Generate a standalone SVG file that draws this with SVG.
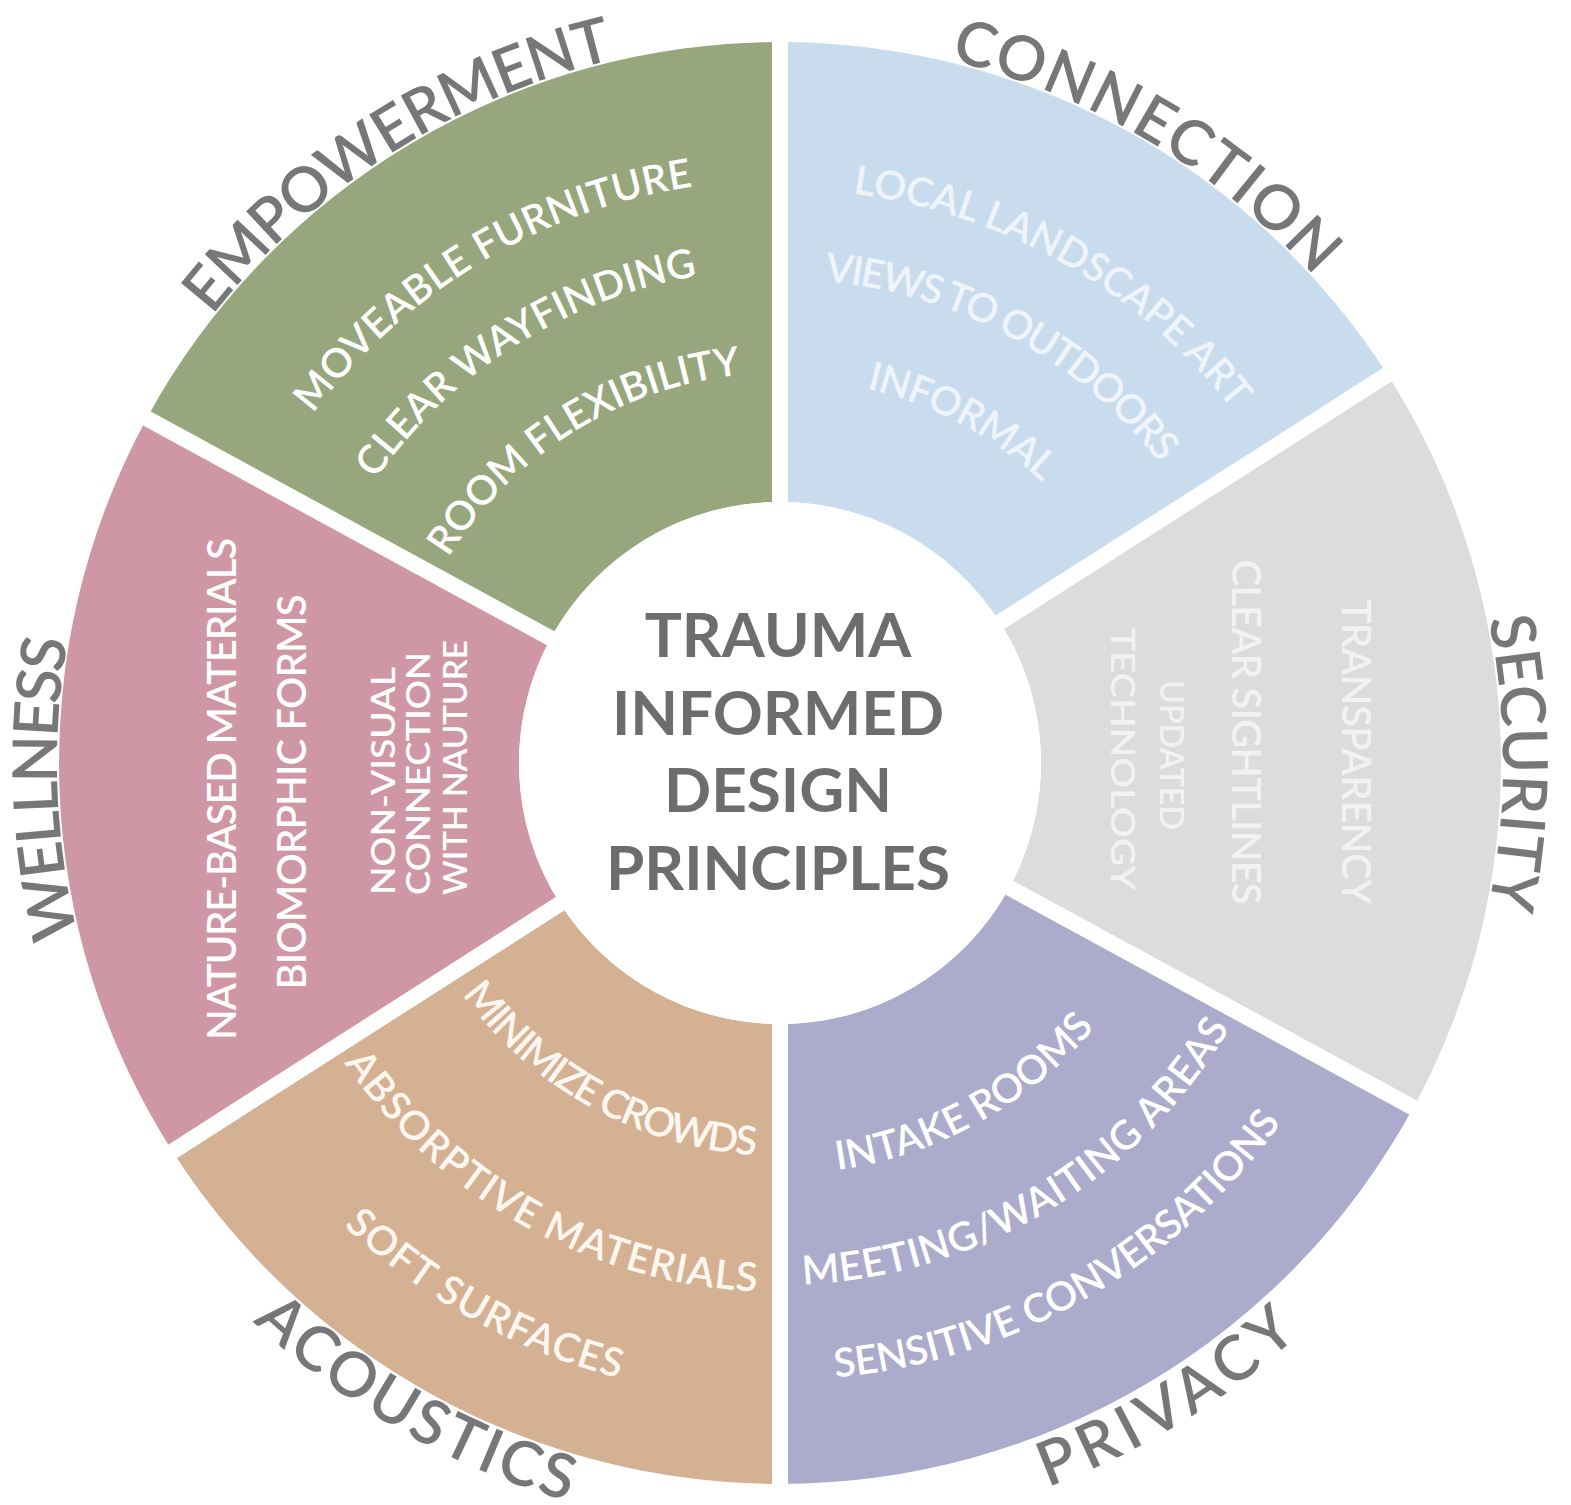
<svg xmlns="http://www.w3.org/2000/svg" xmlns:xlink="http://www.w3.org/1999/xlink" width="1571" height="1505" viewBox="0 0 1571 1505">
<style>
.lbl{font-family:Lato,"Open Sans","Liberation Sans",sans-serif;font-weight:600;font-size:62px;fill:#777679}
.it{font-family:Lato,"Open Sans","Liberation Sans",sans-serif;font-weight:600;font-size:40px;fill:#ffffff}
.nar{font-family:Lato,"Open Sans","Liberation Sans",sans-serif;font-weight:600;font-size:32px;fill:#ffffff}
.ctr{font-family:Lato,"Open Sans","Liberation Sans",sans-serif;font-weight:700;font-size:62px;fill:#6d6d6f}
</style>
<defs>
<path id="pEmp" d="M138.7,429.2 A723,723 0 0 1 748.5,40.7"/>
<path id="pCon" d="M788.2,40 A723,723 0 0 1 1410.2,408.6"/>
<path id="pSec" d="M1406.1,401.5 A723,723 0 0 1 1406.1,1124.5"/>
<path id="pWel" d="M166.9,1146.1 A723,723 0 0 1 141.6,423.6"/>
<path id="pPri" d="M796.8,1534.8 A772,772 0 0 0 1456.9,1134.3"/>
<path id="pAco" d="M116.9,1150.5 A768,768 0 0 0 784,1531"/>
<path id="pE1" d="M270.6,479.5 A583,583 0 0 1 770.8,180.1"/>
<path id="pE2" d="M342.6,533.4 A494,494 0 0 1 760.2,269.4"/>
<path id="pE3" d="M435.6,579.9 A390,390 0 0 1 766.4,373.2"/>
<path id="pC1" d="M776.5,189 A574,574 0 0 1 1275.3,473"/>
<path id="pC2" d="M767.3,279.2 A484,484 0 0 1 1192.7,510.1"/>
<path id="pC3" d="M766.6,379.2 A384,384 0 0 1 1105.7,559.5"/>
<path id="pP1" d="M772.8,1173.9 A411,411 0 0 0 1132.3,974.7"/>
<path id="pP2" d="M789.1,1284.9 A522,522 0 0 0 1236.6,1016.1"/>
<path id="pP3" d="M777.3,1380 A617,617 0 0 0 1313,1073.8"/>
<path id="pA1" d="M444,966.9 A393,393 0 0 0 788.6,1155.9"/>
<path id="pA2" d="M326.6,1035.5 A529,529 0 0 0 789.2,1291.9"/>
<path id="pA3" d="M234.8,1090.6 A636,636 0 0 0 791.1,1398.9"/>
</defs>
<rect width="1571" height="1505" fill="#ffffff"/>

<g id="empowerment">
<path d="M146.7,418.4 A721,721 0 0 1 780,42 L780,502 A261,261 0 0 0 550.7,638.3 Z" fill="#97a67c"/>
<text class="lbl"><textPath xlink:href="#pEmp" href="#pEmp" startOffset="50%" text-anchor="middle" textLength="486" lengthAdjust="spacing">EMPOWERMENT</textPath></text>
<text class="it"><textPath href="#pE1" xlink:href="#pE1" startOffset="50%" text-anchor="middle" textLength="454" lengthAdjust="spacing">MOVEABLE FURNITURE</textPath></text>
<text class="it"><textPath href="#pE2" xlink:href="#pE2" startOffset="50%" text-anchor="middle" textLength="391" lengthAdjust="spacing">CLEAR WAYFINDING</textPath></text>
<text class="it"><textPath href="#pE3" xlink:href="#pE3" startOffset="50%" text-anchor="middle" textLength="357" lengthAdjust="spacing">ROOM FLEXIBILITY</textPath></text>
</g>

<g id="connection">
<path d="M780,42 A721,721 0 0 1 1387.4,374.5 L999.9,622.4 A261,261 0 0 0 780,502 Z" fill="#c9dcee"/>
<text class="lbl"><textPath href="#pCon" xlink:href="#pCon" startOffset="50%" text-anchor="middle" textLength="430" lengthAdjust="spacing">CONNECTION</textPath></text>
<text class="it" style="fill:#eef4fa"><textPath href="#pC1" xlink:href="#pC1" startOffset="50%" text-anchor="middle" textLength="448" lengthAdjust="spacing">LOCAL LANDSCAPE ART</textPath></text>
<text class="it" style="fill:#eef4fa"><textPath href="#pC2" xlink:href="#pC2" startOffset="50%" text-anchor="middle" textLength="392" lengthAdjust="spacing">VIEWS TO OUTDOORS</textPath></text>
<text class="it" style="fill:#eef4fa"><textPath href="#pC3" xlink:href="#pC3" startOffset="50%" text-anchor="middle" textLength="201" lengthAdjust="spacing">INFORMAL</textPath></text>
</g>

<g id="security">
<path d="M1387.4,374.5 A721,721 0 0 1 1413.3,1107.6 L1009.3,887.7 A261,261 0 0 0 999.9,622.4 Z" fill="#dcdcdc"/>
<text class="lbl"><textPath href="#pSec" xlink:href="#pSec" startOffset="50%" text-anchor="middle" textLength="290" lengthAdjust="spacing">SECURITY</textPath></text>
<text class="it" style="fill:#f2f2f2" transform="translate(1342,752) rotate(90)" text-anchor="middle" textLength="305" lengthAdjust="spacing">TRANSPARENCY</text>
<text class="it" style="fill:#f2f2f2" transform="translate(1232,732) rotate(90)" text-anchor="middle" textLength="345" lengthAdjust="spacing">CLEAR SIGHTLINES</text>
<text class="nar" style="fill:#f2f2f2" transform="translate(1160,755) rotate(90)" text-anchor="middle" textLength="150" lengthAdjust="spacingAndGlyphs">UPDATED</text>
<text class="nar" style="fill:#f2f2f2" transform="translate(1111,759) rotate(90)" text-anchor="middle" textLength="262" lengthAdjust="spacingAndGlyphs">TECHNOLOGY</text>
</g>

<g id="privacy">
<path d="M1413.3,1107.6 A721,721 0 0 1 780,1484 L780,1024 A261,261 0 0 0 1009.3,887.7 Z" fill="#adabcc"/>
<text class="lbl"><textPath href="#pPri" xlink:href="#pPri" startOffset="50%" text-anchor="middle" textLength="296" lengthAdjust="spacing">PRIVACY</textPath></text>
<text class="it"><textPath href="#pP1" xlink:href="#pP1" startOffset="50%" text-anchor="middle" textLength="301" lengthAdjust="spacing">INTAKE ROOMS</textPath></text>
<text class="it"><textPath href="#pP2" xlink:href="#pP2" startOffset="50%" text-anchor="middle" textLength="519" lengthAdjust="spacing">MEETING/WAITING AREAS</textPath></text>
<text class="it"><textPath href="#pP3" xlink:href="#pP3" startOffset="50%" text-anchor="middle" textLength="530" lengthAdjust="spacing">SENSITIVE CONVERSATIONS</textPath></text>
</g>

<g id="acoustics">
<path d="M780,1484 A721,721 0 0 1 172.6,1151.5 L560.1,903.6 A261,261 0 0 0 780,1024 Z" fill="#d5b193"/>
<text class="lbl"><textPath href="#pAco" xlink:href="#pAco" startOffset="50%" text-anchor="middle" textLength="366" lengthAdjust="spacing">ACOUSTICS</textPath></text>
<text class="it" style="fill:#fdf7f0"><textPath href="#pA1" xlink:href="#pA1" startOffset="50%" text-anchor="middle" textLength="346" lengthAdjust="spacing">MINIMIZE CROWDS</textPath></text>
<text class="it" style="fill:#fdf7f0"><textPath href="#pA2" xlink:href="#pA2" startOffset="50%" text-anchor="middle" textLength="489" lengthAdjust="spacing">ABSORPTIVE MATERIALS</textPath></text>
<text class="it" style="fill:#fdf7f0"><textPath href="#pA3" xlink:href="#pA3" startOffset="50%" text-anchor="middle" textLength="318" lengthAdjust="spacing">SOFT SURFACES</textPath></text>
</g>

<g id="wellness">
<path d="M172.6,1151.5 A721,721 0 0 1 146.7,418.4 L550.7,638.3 A261,261 0 0 0 560.1,903.6 Z" fill="#cf97a6"/>
<text class="lbl"><textPath href="#pWel" xlink:href="#pWel" startOffset="50%" text-anchor="middle" textLength="298" lengthAdjust="spacing">WELLNESS</textPath></text>
<text class="it" transform="translate(236,789) rotate(-90)" text-anchor="middle" textLength="502" lengthAdjust="spacing">NATURE-BASED MATERIALS</text>
<text class="it" transform="translate(306,792) rotate(-90)" text-anchor="middle" textLength="395" lengthAdjust="spacing">BIOMORPHIC FORMS</text>
<text class="nar" transform="translate(395,895) rotate(-90)" textLength="228" lengthAdjust="spacingAndGlyphs">NON-VISUAL</text>
<text class="nar" transform="translate(430,895) rotate(-90)" textLength="243" lengthAdjust="spacingAndGlyphs">CONNECTION</text>
<text class="nar" transform="translate(467,895) rotate(-90)" textLength="255" lengthAdjust="spacingAndGlyphs">WITH NAUTURE</text>
</g>

<g id="dividers" stroke="#ffffff" stroke-width="16">
<line x1="780" y1="25" x2="780" y2="1500"/>
<line x1="1403.5" y1="364.3" x2="156.5" y2="1161.7"/>
<line x1="1430" y1="1116.7" x2="130" y2="409.3"/>
</g>

<g id="center">
<circle cx="780" cy="763" r="261" fill="#ffffff"/>
<text class="ctr" x="778" y="657" text-anchor="middle">TRAUMA</text>
<text class="ctr" x="778" y="735" text-anchor="middle">INFORMED</text>
<text class="ctr" x="778" y="812" text-anchor="middle">DESIGN</text>
<text class="ctr" x="778" y="890" text-anchor="middle">PRINCIPLES</text>
</g>
</svg>
